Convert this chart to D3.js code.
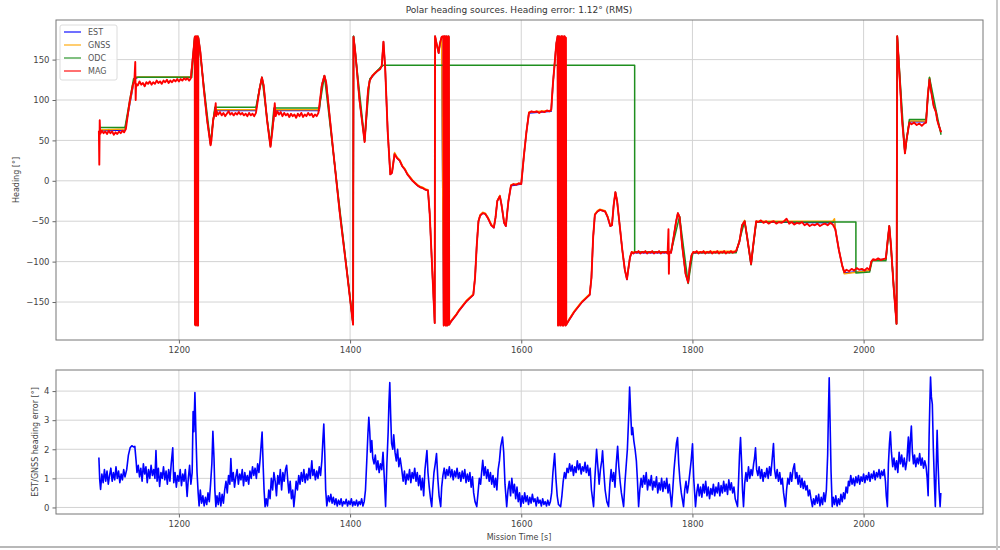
<!DOCTYPE html>
<html><head><meta charset="utf-8">
<script src="https://cdn.jsdelivr.net/npm/d3@7"></script>
<style>
body{margin:0;background:#fff;}
text{font-family:"DejaVu Sans",sans-serif;}
</style></head><body>
<svg id="c" width="1000" height="550"></svg>
<script>
const titleText = "Polar heading sources. Heading error: 1.12° (RMS)";
const xLabel = "Mission Time [s]";
const topYLabel = "Heading [°]";
const bottomYLabel = "EST/GNSS heading error [°]";
const legendLabels = ["EST", "GNSS", "ODC", "MAG"];
const xTicks = [1200, 1400, 1600, 1800, 2000];
const headingTicks = [-150, -100, -50, 0, 50, 100, 150];
const errorTicks = [0, 1, 2, 3, 4];

const gnssSeries = [[1107,63],[1137,64],[1148,127],[1152,128.5],[1214,128.5],[1218.5,178],[1219,-178],[1221,-176],[1222,-179],[1222.5,179],[1225,160],[1229,115],[1233,75],[1237,45],[1240,76],[1242,88],[1290,88],[1294,113],[1297,128],[1299,118],[1303,75],[1307,43],[1309,62],[1312,88],[1364,88],[1367,119],[1370,130],[1372,122],[1380,40],[1388,-40],[1396,-110],[1403.5,-177],[1404,179],[1406,160],[1411,100],[1417,49],[1419,80],[1421,113],[1423,125],[1429,134],[1435,139],[1437,143],[1439,172],[1441,140],[1444,60],[1447,8],[1449,11],[1452,35],[1455,29],[1458,26],[1461,19],[1464,15],[1467,9],[1470,5],[1473,1],[1476,-2],[1479,-5],[1482,-7],[1485,-8],[1488,-10],[1491,-11],[1493,-40],[1496,-110],[1498.9,-176],[1499.3,179],[1501,170],[1503.5,159],[1505,170],[1507,178],[1509.4,-179],[1510.6,179],[1511.8,-179],[1513,179],[1514.2,-179],[1515.4,179],[1515.8,-178],[1518,-173],[1521,-169],[1524,-165],[1527,-160],[1530,-156],[1533,-152],[1536,-148],[1539,-145],[1542,-142],[1544,-140],[1546,-120],[1548,-80],[1550,-50],[1552,-42],[1555,-39],[1558,-40],[1561,-45],[1565,-54],[1568,-57],[1570,-45],[1572,-25],[1575,-18],[1577,-30],[1580,-51],[1582,-55],[1585,-25],[1588,-5],[1600,-3],[1603,30],[1606,60],[1609,85],[1635,87],[1637,120],[1639,145],[1641,170],[1642.5,179],[1643,-179],[1644,179],[1646,-179],[1647,179],[1649,-179],[1650,179],[1652,-179],[1653,-177],[1656,-171],[1659,-166],[1662,-161],[1665,-157],[1668,-153],[1671,-149],[1674,-146],[1677,-143],[1680,-140],[1682,-120],[1684,-70],[1686,-41],[1689,-37],[1692,-35],[1695,-36],[1698,-37],[1701,-44],[1704,-55],[1706,-54],[1708,-30],[1710,-14],[1712,-25],[1715,-55],[1718,-85],[1721,-110],[1723.5,-121],[1725,-110],[1727,-95],[1729,-88],[1775,-88],[1778,-70],[1781,-50],[1783,-40],[1785,-45],[1788,-80],[1792,-115],[1795,-125],[1797,-105],[1799,-92],[1801,-88],[1851,-87],[1855,-75],[1858,-55],[1861,-49],[1864,-70],[1868.5,-102],[1871,-80],[1874.5,-50],[1964,-50],[1966,-47],[1967,-60],[1971,-85],[1975,-105],[1977.5,-115],[2007,-111],[2009,-100],[2011,-98],[2026,-97],[2028,-75],[2030,-56],[2032,-80],[2035,-130],[2038.5,-177],[2039.3,179],[2042,130],[2045,75],[2048.3,35],[2050,50],[2053.5,74],[2073,74],[2075,105],[2077,128],[2079,112],[2082,92],[2084.5,86],[2086,76],[2088,68],[2090.5,60]];

const estSeries = [[1107,62],[1137,63],[1148,126],[1152,128],[1214,128],[1218.5,178],[1219,-178],[1221,-176],[1222,-179],[1222.5,179],[1225,160],[1229,115],[1233,75],[1237,45],[1240,75],[1242,87],[1290,87],[1294,113],[1297,128],[1299,118],[1303,75],[1307,43],[1309,61],[1312,87],[1364,87],[1367,119],[1370,130],[1372,122],[1380,40],[1388,-40],[1396,-110],[1403.5,-177],[1404,179],[1406,160],[1411,100],[1417,49],[1419,80],[1421,112],[1423,125],[1429,133],[1435,139],[1437,142],[1439,172],[1441,140],[1444,60],[1447,8],[1449,10],[1452,34],[1455,28],[1458,25],[1461,18],[1464,14],[1467,8],[1470,4],[1473,0],[1476,-3],[1479,-6],[1482,-8],[1485,-9],[1488,-11],[1491,-12],[1493,-40],[1496,-110],[1498.9,-176],[1499.3,179],[1501,170],[1503.5,158],[1505,170],[1507,178],[1509.4,-179],[1510.6,179],[1511.8,-179],[1513,179],[1514.2,-179],[1515.4,179],[1515.8,-178],[1518,-174],[1521,-170],[1524,-166],[1527,-161],[1530,-157],[1533,-153],[1536,-149],[1539,-146],[1542,-143],[1544,-141],[1546,-120],[1548,-80],[1550,-50],[1552,-43],[1555,-40],[1558,-41],[1561,-46],[1565,-55],[1568,-58],[1570,-45],[1572,-25],[1575,-19],[1577,-30],[1580,-52],[1582,-56],[1585,-25],[1588,-6],[1600,-4],[1603,30],[1606,60],[1609,84],[1635,86],[1637,120],[1639,145],[1641,170],[1642.5,179],[1643,-179],[1644,179],[1646,-179],[1647,179],[1649,-179],[1650,179],[1652,-179],[1653,-177],[1656,-172],[1659,-167],[1662,-162],[1665,-158],[1668,-154],[1671,-150],[1674,-147],[1677,-144],[1680,-141],[1682,-120],[1684,-70],[1686,-42],[1689,-38],[1692,-36],[1695,-37],[1698,-38],[1701,-45],[1704,-56],[1706,-55],[1708,-30],[1710,-14],[1712,-25],[1715,-55],[1718,-85],[1721,-110],[1723.5,-122],[1725,-110],[1727,-95],[1729,-89],[1775,-89],[1778,-70],[1781,-50],[1783,-40],[1785,-45],[1788,-80],[1792,-115],[1795,-126],[1797,-105],[1799,-92],[1801,-89],[1851,-88],[1855,-75],[1858,-55],[1861,-50],[1864,-70],[1868.5,-103],[1871,-80],[1874.5,-51],[1964,-52],[1966,-50],[1967,-60],[1971,-85],[1975,-105],[1977.5,-114],[2007,-111],[2009,-100],[2011,-98],[2026,-97],[2028,-75],[2030,-56],[2032,-80],[2035,-130],[2038.5,-177],[2039.3,179],[2042,130],[2045,75],[2048.3,35],[2050,50],[2053.5,73],[2073,73],[2075,105],[2077,127],[2079,111],[2082,92],[2084.5,86],[2086,76],[2088,68],[2090.5,60]];

const odcSeries = [[1107,66],[1137,66],[1147,126],[1150,128],[1215,128],[1218.5,178],[1219,-178],[1222.5,178],[1237,46],[1242,91],[1290,91],[1297,128],[1307,44],[1311,90],[1364,90],[1370,130],[1403.5,-177],[1404,179],[1417,50],[1423,126],[1435,140],[1439,143],[1732.5,143],[1732.5,-88],[1775,-88],[1785,-44],[1795,-127],[1800.5,-89],[1851,-89],[1861,-50],[1868.5,-104],[1874.5,-51],[1991,-51],[1991,-114],[2007,-113],[2010,-99],[2026,-99],[2030,-56],[2038.5,-177],[2039.3,179],[2048.3,34],[2053.5,76],[2073,76],[2077,128],[2084.5,88],[2090.5,57]];

const magSeries = [[1106.5,62],[1107,20],[1107.5,75],[1108,58],[1110,62],[1112,59],[1114,61],[1116,58],[1118,62],[1120,59],[1122,61],[1124,57],[1126,60],[1128,58],[1130,61],[1132,59],[1134,62],[1136,60],[1138,64],[1142,95],[1146,118],[1148,124],[1149,147],[1149.5,100],[1150,120],[1152,118],[1154,123],[1156,119],[1158,121],[1160,117],[1162,122],[1164,120],[1166,123],[1168,119],[1170,122],[1172,120],[1174,124],[1176,121],[1178,123],[1180,120],[1182,124],[1184,122],[1186,125],[1188,121],[1190,124],[1192,122],[1194,125],[1196,123],[1198,126],[1200,123],[1202,126],[1204,124],[1206,127],[1208,125],[1210,127],[1212,124],[1214,127],[1217,160],[1218.5,178],[1218.8,-178],[1219.1,179],[1219.4,-177],[1219.7,178],[1220,-179],[1220.3,179],[1220.6,-178],[1220.9,178],[1221.2,-177],[1221.5,179],[1221.8,-178],[1222.1,178],[1222.4,-179],[1222.7,177],[1225,160],[1229,115],[1233,75],[1237,44],[1238,50],[1240,75],[1242,85],[1243,96],[1243.5,80],[1244,86],[1246,82],[1248,85],[1250,81],[1252,84],[1254,80],[1256,83],[1258,86],[1260,82],[1262,84],[1264,81],[1266,84],[1268,82],[1270,85],[1272,82],[1274,84],[1276,81],[1278,83],[1280,80],[1282,84],[1284,81],[1286,83],[1288,80],[1290,84],[1294,112],[1297,128],[1299,118],[1303,75],[1307,42],[1309,60],[1311,82],[1312,96],[1313,80],[1315,86],[1317,82],[1319,85],[1321,80],[1323,84],[1325,81],[1327,83],[1329,79],[1331,83],[1333,80],[1335,82],[1337,78],[1339,83],[1341,80],[1343,84],[1345,79],[1347,82],[1349,80],[1351,84],[1353,81],[1355,83],[1357,79],[1359,82],[1361,80],[1363,84],[1367,118],[1370,130],[1372,122],[1380,40],[1388,-40],[1396,-110],[1403.5,-178],[1404,178],[1406,160],[1411,100],[1417,48],[1419,80],[1421,112],[1423,124],[1426,130],[1429,133],[1432,136],[1435,138],[1437,142],[1439,172],[1441,140],[1444,60],[1447,8],[1449,10],[1452,33],[1455,28],[1458,25],[1461,18],[1464,14],[1467,8],[1470,4],[1473,0],[1476,-3],[1479,-6],[1482,-8],[1485,-9],[1488,-11],[1491,-12],[1493,-40],[1496,-110],[1498.9,-176],[1499.3,179],[1501,170],[1503.5,158],[1505,170],[1507,178],[1509,179],[1509.4,-179],[1509.8,178],[1510.2,-178],[1510.6,179],[1511,-177],[1511.4,178],[1511.8,-179],[1512.2,179],[1512.6,-178],[1513,177],[1513.4,-179],[1513.8,178],[1514.2,-178],[1514.6,179],[1515,-177],[1515.4,178],[1515.8,-178],[1518,-174],[1521,-170],[1524,-166],[1527,-161],[1530,-157],[1533,-153],[1536,-149],[1539,-146],[1542,-143],[1544,-141],[1546,-120],[1548,-80],[1550,-50],[1552,-43],[1555,-40],[1558,-41],[1561,-46],[1565,-55],[1568,-58],[1570,-45],[1572,-25],[1575,-19],[1577,-30],[1580,-52],[1582,-56],[1585,-25],[1588,-6],[1591,-4],[1594,-5],[1597,-3],[1600,-4],[1603,30],[1606,60],[1609,84],[1612,86],[1615,85],[1618,86],[1621,84],[1624,86],[1627,85],[1630,87],[1633,86],[1635,88],[1637,120],[1639,145],[1641,170],[1642.5,179],[1643,-179],[1643.4,178],[1643.8,-178],[1644.2,179],[1644.6,-177],[1645,178],[1645.4,-179],[1645.8,177],[1646.2,-178],[1646.6,179],[1647,-177],[1647.4,178],[1647.8,-179],[1648.2,179],[1648.6,-178],[1649,177],[1649.4,-179],[1649.8,178],[1650.2,-177],[1650.6,179],[1651,-178],[1651.4,178],[1651.8,-179],[1652.2,177],[1652.6,-178],[1656,-172],[1659,-167],[1662,-162],[1665,-158],[1668,-154],[1671,-150],[1674,-147],[1677,-144],[1680,-141],[1682,-120],[1684,-70],[1686,-42],[1689,-38],[1692,-36],[1695,-37],[1698,-38],[1701,-45],[1704,-56],[1706,-55],[1708,-30],[1710,-14],[1712,-25],[1715,-55],[1718,-85],[1721,-110],[1723.5,-122],[1725,-110],[1727,-95],[1729,-88],[1731,-90],[1733,-88],[1735,-89],[1737,-87],[1739,-90],[1741,-88],[1743,-89],[1745,-87],[1747,-90],[1749,-88],[1751,-89],[1753,-87],[1755,-90],[1757,-88],[1759,-89],[1761,-87],[1763,-90],[1765,-88],[1767,-89],[1769,-88],[1771,-90],[1772,-60],[1772.5,-115],[1773,-88],[1775,-89],[1778,-70],[1781,-50],[1783,-40],[1785,-45],[1788,-80],[1792,-115],[1795,-126],[1797,-105],[1799,-92],[1801,-88],[1803,-89],[1805,-87],[1807,-90],[1809,-88],[1811,-89],[1813,-87],[1815,-90],[1817,-88],[1819,-89],[1821,-87],[1823,-90],[1825,-88],[1827,-89],[1829,-87],[1831,-90],[1833,-88],[1835,-89],[1837,-87],[1839,-90],[1841,-88],[1843,-89],[1845,-87],[1847,-89],[1849,-88],[1851,-87],[1855,-75],[1858,-55],[1861,-50],[1864,-70],[1868.5,-103],[1871,-80],[1874.5,-50],[1877,-51],[1880,-49],[1883,-52],[1886,-50],[1889,-53],[1892,-51],[1895,-50],[1898,-53],[1901,-51],[1904,-52],[1907,-50],[1910,-47],[1913,-53],[1916,-51],[1919,-54],[1922,-52],[1925,-53],[1928,-51],[1931,-55],[1934,-53],[1937,-56],[1940,-54],[1943,-55],[1946,-53],[1949,-56],[1952,-54],[1955,-53],[1958,-55],[1961,-52],[1964,-54],[1967,-60],[1971,-85],[1975,-105],[1977.5,-113],[1980,-110],[1983,-112],[1986,-109],[1989,-111],[1992,-108],[1995,-110],[1998,-109],[2001,-111],[2004,-108],[2007,-110],[2009,-100],[2011,-97],[2014,-98],[2017,-96],[2020,-98],[2023,-97],[2026,-96],[2028,-75],[2030,-56],[2032,-80],[2035,-130],[2038.5,-177],[2039.3,179],[2042,130],[2045,75],[2048.3,34],[2050,50],[2053.5,72],[2056,70],[2059,72],[2062,69],[2065,71],[2068,68],[2071,71],[2073,72],[2075,105],[2077,125],[2079,110],[2082,92],[2084.5,85],[2086,75],[2088,68],[2090.5,60]];

const errSeries = [[1106.5,1.72],[1107.5,0.95],[1108.5,0.62],[1110,1.15],[1111.5,0.85],[1113,1.3],[1114.5,0.9],[1116,1.25],[1117.5,0.8],[1119,1.1],[1120.5,1.35],[1122,0.9],[1123.5,1.2],[1125,0.95],[1126.5,1.4],[1128,1.0],[1129.5,1.25],[1131,0.85],[1132.5,1.15],[1134,0.95],[1135.5,1.3],[1137,1.05],[1139,1.3],[1141,1.8],[1143,2.05],[1145,2.12],[1147,2.08],[1148.5,2.1],[1150,1.6],[1151,1.2],[1152.5,1.45],[1154,1.05],[1155.5,1.35],[1157,0.9],[1158.5,1.5],[1160,1.15],[1161.5,1.4],[1163,0.85],[1164.5,1.3],[1166,1.0],[1167.5,1.45],[1169,1.1],[1170.5,1.3],[1172,1.0],[1173.2,1.96],[1174.5,0.9],[1176,1.35],[1177.5,0.72],[1179,1.2],[1180.5,1.0],[1182,1.4],[1183.5,0.95],[1185,1.25],[1186.5,0.8],[1188,1.3],[1189.5,0.9],[1191,1.5],[1192.8,2.05],[1194,0.85],[1195.5,1.2],[1197,0.7],[1198.5,1.1],[1200,0.9],[1201.5,1.3],[1203,0.75],[1204.5,1.15],[1206,0.9],[1207.5,1.3],[1209.6,0.38],[1211,1.0],[1212.5,1.45],[1214,0.8],[1215.5,1.2],[1216.6,3.3],[1217.5,2.6],[1218.7,3.95],[1220,2.4],[1221.2,1.2],[1222.5,0.5],[1223.6,0.05],[1225,0.6],[1226.5,0.15],[1228,0.4],[1229.5,0.05],[1231,0.35],[1232.5,0.1],[1234,0.5],[1235.5,0.2],[1237,0.8],[1238.5,1.5],[1239.7,2.62],[1241,1.7],[1242,0.6],[1243.2,0.03],[1244.5,0.4],[1246,0.1],[1247.5,0.5],[1249,0.05],[1250.5,0.45],[1252,0.15],[1253.5,0.6],[1255,0.9],[1256.5,0.5],[1258,1.1],[1259.5,0.8],[1260.7,1.68],[1262,0.9],[1263.5,1.2],[1265,0.7],[1266.5,1.05],[1268,1.3],[1269.5,0.8],[1271,1.15],[1272.5,0.95],[1274,1.3],[1275.5,0.75],[1277,1.2],[1278.5,0.9],[1280,1.1],[1281.5,0.8],[1283,1.25],[1284.5,1.0],[1286,1.4],[1287.5,1.1],[1289,1.35],[1290.5,1.0],[1292,1.5],[1293.5,1.2],[1295,1.7],[1296.2,2.2],[1297.2,2.59],[1298.5,1.4],[1299.5,0.6],[1300.7,0.03],[1302,0.3],[1303.5,0.05],[1305,0.6],[1306.5,0.3],[1308,1.0],[1309.5,0.6],[1311,1.2],[1312.5,0.9],[1314,0.4],[1315.5,1.1],[1317,0.8],[1318.5,1.3],[1320,0.6],[1321.5,1.2],[1323,0.9],[1324.5,1.3],[1325.9,1.45],[1327,1.0],[1328.5,0.5],[1330,0.9],[1331.5,0.3],[1333,0.6],[1334.3,0.03],[1335.5,0.4],[1337,0.9],[1338.5,0.6],[1340,1.1],[1341.5,0.8],[1343,1.2],[1344.5,0.9],[1346,1.3],[1347.5,0.85],[1349,1.15],[1350.5,0.95],[1352,1.35],[1353.5,1.0],[1355.3,1.6],[1356.5,1.1],[1358,1.3],[1359.5,0.95],[1361,1.25],[1362.5,1.0],[1364,1.4],[1365.5,1.1],[1367,1.6],[1368.2,2.3],[1369.3,2.87],[1370.5,1.8],[1371.5,0.6],[1372.8,0.05],[1374.5,0.4],[1376,0.2],[1377.5,0.45],[1379,0.15],[1380.5,0.35],[1382,0.1],[1383.5,0.3],[1385,0.05],[1386.5,0.25],[1388,0.1],[1389.5,0.3],[1391,0.05],[1392.5,0.2],[1394,0.12],[1395.5,0.28],[1397,0.05],[1398.5,0.22],[1400,0.1],[1401.5,0.3],[1403,0.05],[1404.5,0.2],[1406,0.08],[1407.5,0.25],[1409,0.05],[1410.5,0.2],[1412,0.1],[1413.5,0.3],[1415,0.05],[1416.5,0.2],[1418,0.6],[1419.5,1.6],[1420.8,2.5],[1421.9,3.1],[1423,2.6],[1424,1.9],[1425.4,2.3],[1426.5,1.7],[1428,1.5],[1429.5,1.8],[1431,1.3],[1432.5,1.6],[1434,1.2],[1435.5,1.5],[1437,1.3],[1438.5,1.9],[1440,1.0],[1441.5,0.03],[1443,1.5],[1444.5,2.6],[1445.4,3.6],[1446.4,4.29],[1447.4,3.2],[1448.5,2.2],[1449.9,2.0],[1451,2.5],[1452.5,1.9],[1454,1.6],[1455.5,2.0],[1457,1.4],[1458.5,1.7],[1460.4,1.3],[1462,0.9],[1463.5,1.25],[1465,0.8],[1466.5,1.15],[1468,0.95],[1469.5,1.3],[1471,0.85],[1472.5,1.2],[1474,1.0],[1475.5,1.35],[1477,0.9],[1478.5,1.2],[1480,0.75],[1481.5,1.1],[1483,0.6],[1484.5,1.0],[1486,0.4],[1487.5,1.3],[1489.8,1.96],[1491,1.2],[1492.5,0.7],[1494,0.3],[1495.4,0.03],[1496.5,0.6],[1498,1.2],[1499.5,1.5],[1501,1.85],[1502.5,1.0],[1504,0.4],[1505.9,0.03],[1507,0.7],[1508.5,1.1],[1510,1.35],[1511.5,1.0],[1513,1.3],[1514.5,1.1],[1516,1.4],[1517.5,1.05],[1519,1.3],[1520.5,0.95],[1522,1.25],[1523.5,1.05],[1525,1.35],[1526.5,1.0],[1528,1.2],[1529.5,0.9],[1531,1.25],[1532.5,1.0],[1534,1.3],[1535.5,0.85],[1537,1.15],[1538.5,0.9],[1540,1.2],[1541.5,0.7],[1543,1.05],[1544.4,0.5],[1546,0.2],[1548,0.03],[1549.5,0.5],[1551,1.0],[1552.5,0.8],[1554,1.3],[1555,1.62],[1556.5,1.1],[1558,1.4],[1559.5,1.0],[1561,1.3],[1562.5,0.9],[1564,1.2],[1565.5,0.8],[1567,1.1],[1568.5,0.7],[1570,1.0],[1571.5,0.6],[1573,1.3],[1574.5,1.6],[1576,2.1],[1578.1,2.42],[1579.5,1.9],[1581,0.8],[1583,0.03],[1584.5,0.6],[1586,0.9],[1587.5,0.4],[1589,1.0],[1590.5,0.5],[1592,0.8],[1593.5,0.3],[1595,0.7],[1596.5,0.2],[1598,0.5],[1599.5,0.03],[1601,0.4],[1602.5,0.15],[1604,0.5],[1605.5,0.2],[1607,0.4],[1608.5,0.1],[1610,0.35],[1611.5,0.15],[1613,0.45],[1614.5,0.2],[1616,0.3],[1617.5,0.05],[1619,0.35],[1620.5,0.15],[1622,0.25],[1623.5,0.05],[1625,0.3],[1626.5,0.1],[1628,0.2],[1629.5,0.05],[1631,0.25],[1632.5,0.08],[1634,0.2],[1635.5,0.5],[1637,1.2],[1639,1.85],[1640.5,1.0],[1642,0.4],[1643.5,0.1],[1646,0.03],[1647.5,0.4],[1649,0.9],[1650.5,1.2],[1652,1.0],[1653.5,1.35],[1655,1.2],[1656.5,1.5],[1658,1.25],[1659.5,1.45],[1661,1.1],[1662.5,1.4],[1664,1.2],[1665.5,1.6],[1667,1.3],[1668.5,1.5],[1670,1.15],[1671.5,1.4],[1673,1.25],[1674.5,1.55],[1676,1.2],[1677.5,1.45],[1679,1.1],[1680.5,1.35],[1682,0.6],[1684.5,0.03],[1686,1.0],[1688,2.0],[1689.5,1.4],[1691,0.8],[1692.5,1.3],[1694,1.6],[1695,1.95],[1696.5,1.2],[1698,0.6],[1700,0.2],[1702,0.03],[1703.5,0.8],[1705,1.3],[1706.5,0.9],[1708,1.2],[1709.5,0.7],[1711,1.5],[1712.6,2.1],[1714,1.4],[1715.5,0.9],[1717,0.5],[1719.6,0.03],[1721,0.8],[1722.5,1.4],[1724,2.0],[1725.5,3.1],[1726.6,4.14],[1727.8,3.3],[1729,2.5],[1730.1,2.75],[1731.5,2.3],[1733,2.0],[1734.5,1.6],[1735.8,0.9],[1737.1,0.03],[1738.5,0.6],[1740,1.0],[1741.5,0.7],[1743,1.1],[1744.5,0.8],[1746,1.2],[1747.5,0.6],[1749,0.95],[1750.5,0.75],[1752,1.1],[1753.5,0.6],[1755,0.9],[1756.5,0.7],[1758,1.05],[1759.5,0.5],[1761,0.85],[1762.5,0.6],[1764,1.0],[1765.5,0.55],[1767,0.9],[1768.5,0.65],[1770,1.0],[1771.5,0.5],[1773,0.8],[1775.6,0.03],[1777,0.6],[1778.5,1.3],[1780,1.8],[1781.3,2.2],[1782.6,2.4],[1784,1.5],[1785.5,0.9],[1787,0.5],[1789.6,0.03],[1791,0.6],[1792.5,0.9],[1794,0.5],[1795.5,0.8],[1797,1.2],[1798.5,1.6],[1800.1,2.19],[1801.5,1.0],[1803.6,0.03],[1805,0.5],[1806.5,0.8],[1808,0.4],[1809.5,0.7],[1811,0.35],[1812.5,0.8],[1814,0.5],[1815.5,0.9],[1817,0.4],[1818.5,0.7],[1820,0.3],[1821.5,0.65],[1823,0.45],[1824.5,0.8],[1826,0.4],[1827.5,0.7],[1829,0.5],[1830.5,0.85],[1832,0.4],[1833.5,0.75],[1835,0.5],[1836.5,0.9],[1838,0.55],[1839.5,0.8],[1841,0.45],[1842.5,0.95],[1844,0.6],[1845.5,0.85],[1847,0.5],[1848.5,0.7],[1850,0.3],[1852.7,0.03],[1854,1.0],[1855,1.8],[1856.2,2.4],[1857.5,1.5],[1858.5,0.6],[1859.7,0.03],[1861,0.8],[1862.5,1.2],[1864,0.9],[1865.5,1.4],[1867,1.0],[1868.5,1.3],[1870,1.1],[1871.5,1.5],[1872.6,1.7],[1873.7,2.05],[1875,1.3],[1876.5,1.1],[1878,1.4],[1879.5,1.0],[1881,1.3],[1882.5,0.9],[1884,1.2],[1885.5,1.05],[1887,1.35],[1888.5,1.0],[1890,1.4],[1891.5,1.1],[1893,1.6],[1894.7,2.2],[1896,1.3],[1897.5,1.0],[1899,1.3],[1900.5,0.9],[1902,1.2],[1903.5,0.8],[1905,1.0],[1906.5,0.5],[1908.7,0.03],[1910,0.6],[1911.5,1.0],[1913,0.8],[1914.5,1.2],[1916,0.9],[1917.5,1.3],[1919.2,1.5],[1920.5,1.0],[1922,1.2],[1923.5,0.8],[1925,1.1],[1926.5,0.7],[1928,1.0],[1929.5,0.65],[1931,0.9],[1932.5,0.6],[1934,0.75],[1935.5,0.4],[1937,0.6],[1938.5,0.3],[1940.2,0.03],[1941.5,0.3],[1943,0.1],[1944.5,0.4],[1946,0.15],[1947.5,0.45],[1949,0.05],[1950.5,0.35],[1952,0.1],[1953.5,0.5],[1955,0.2],[1956.5,0.6],[1958,1.8],[1959,3.4],[1959.8,4.46],[1960.8,3.0],[1962,1.2],[1963.3,0.03],[1964.5,0.35],[1966,0.1],[1967.5,0.4],[1969,0.05],[1970.5,0.3],[1972,0.1],[1973.5,0.45],[1975,0.2],[1976.5,0.5],[1978,0.3],[1979.5,0.7],[1981,0.5],[1982.3,0.9],[1983.5,0.75],[1985,1.1],[1986.5,0.8],[1988,1.0],[1989.5,0.75],[1991,1.05],[1992.5,0.85],[1994,1.1],[1995.5,0.8],[1997,1.05],[1998.5,0.9],[2000,1.15],[2001.5,0.85],[2003,1.1],[2004.5,0.95],[2006,1.2],[2007.5,0.9],[2009,1.15],[2010.5,1.0],[2012,1.25],[2013.5,0.95],[2015,1.2],[2016.5,1.05],[2018,1.3],[2019.5,1.0],[2021,1.25],[2022.5,1.1],[2024,1.3],[2025.5,0.9],[2026.5,0.4],[2027.8,0.03],[2029,1.5],[2030.2,2.2],[2031.3,2.6],[2032.5,1.9],[2034,1.4],[2035.5,1.7],[2037,1.3],[2038.5,1.6],[2040,1.2],[2041.5,1.9],[2043,1.5],[2044.5,1.8],[2046,1.4],[2047.5,1.7],[2049,1.3],[2050.5,1.6],[2052.3,2.42],[2053.5,1.6],[2054.6,2.3],[2055.8,2.8],[2057,1.9],[2058.3,1.5],[2059.5,1.8],[2061,1.4],[2062.5,1.7],[2064,1.5],[2065.5,1.85],[2067,1.45],[2068.5,1.7],[2070,1.35],[2071.5,1.6],[2073,1.4],[2074.3,1.0],[2075.4,0.4],[2076.5,2.4],[2077.4,3.6],[2078.2,4.48],[2079.2,3.8],[2080.3,3.55],[2081.5,2.0],[2082.8,0.8],[2083.8,0.03],[2084.9,1.4],[2085.9,2.65],[2087,1.5],[2088.2,0.6],[2089.4,0.03],[2090.2,0.5]];

const seriesColors = {EST: "#0000ff", GNSS: "#ffa500", ODC: "#1f8f1f", MAG: "#ff0000"};

const svg = d3.select("#c");
const L = 56, R = 983;
const topBox = {top: 20, bottom: 340};
const botBox = {top: 370, bottom: 514};

const x = d3.scaleLinear().domain([1056.4, 2139.5]).range([L, R]);
const yTop = d3.scaleLinear().domain([-197, 199]).range([topBox.bottom, topBox.top]);
const yBot = d3.scaleLinear().domain([-0.225, 4.725]).range([botBox.bottom, botBox.top]);

// outer frame lines of the screenshot
svg.append("line").attr("x1", 0).attr("x2", 1000).attr("y1", 547).attr("y2", 547).attr("stroke", "#b8b8b8").attr("stroke-width", 2);
svg.append("line").attr("x1", 997).attr("x2", 997).attr("y1", 0).attr("y2", 550).attr("stroke", "#c8c8c8").attr("stroke-width", 2);

const defs = svg.append("defs");
defs.append("clipPath").attr("id", "clipTop").append("rect").attr("x", L).attr("y", topBox.top).attr("width", R - L).attr("height", topBox.bottom - topBox.top);
defs.append("clipPath").attr("id", "clipBot").append("rect").attr("x", L).attr("y", botBox.top).attr("width", R - L).attr("height", botBox.bottom - botBox.top);

function drawAxes(box, y, ticks) {
  const g = svg.append("g");
  g.selectAll(".vg").data(xTicks).join("line")
    .attr("x1", d => x(d)).attr("x2", d => x(d)).attr("y1", box.top).attr("y2", box.bottom)
    .attr("stroke", "#d3d3d3").attr("stroke-width", 1);
  g.selectAll(".hg").data(ticks).join("line")
    .attr("x1", L).attr("x2", R).attr("y1", d => y(d)).attr("y2", d => y(d))
    .attr("stroke", "#d3d3d3").attr("stroke-width", 1);
  const ax = svg.append("g").attr("transform", `translate(0,${box.bottom})`)
    .call(d3.axisBottom(x).tickValues(xTicks).tickSize(3.5).tickPadding(3).tickFormat(d3.format("d")));
  const ay = svg.append("g").attr("transform", `translate(${L},0)`)
    .call(d3.axisLeft(y).tickValues(ticks).tickSize(3.5).tickPadding(3).tickFormat(d => d < 0 ? "\u2212" + Math.abs(d) : d));
  [ax, ay].forEach(a => {
    a.select(".domain").remove();
    a.selectAll(".tick line").attr("stroke", "#666");
    a.selectAll(".tick text").attr("fill", "#444").style("font-size", "8.5px").style("font-family", "DejaVu Sans");
  });
  return g;
}
function drawFrame(box) {
  svg.append("rect").attr("x", L).attr("y", box.top).attr("width", R - L).attr("height", box.bottom - box.top)
    .attr("fill", "none").attr("stroke", "#777").attr("stroke-width", 1);
}

drawAxes(topBox, yTop, headingTicks);
drawAxes(botBox, yBot, errorTicks);

const lineTop = d3.line().x(d => x(d[0])).y(d => yTop(d[1]));
const lineBot = d3.line().x(d => x(d[0])).y(d => yBot(d[1]));

const gTop = svg.append("g").attr("clip-path", "url(#clipTop)");
const topData = [["EST", estSeries, 1.5], ["GNSS", gnssSeries, 1.5], ["ODC", odcSeries, 1.5], ["MAG", magSeries, 1.9]];
topData.forEach(([name, data, w]) => {
  gTop.append("path").datum(data).attr("d", lineTop)
    .attr("fill", "none").attr("stroke", seriesColors[name]).attr("stroke-width", w)
    .attr("stroke-linejoin", "round");
});

const gBot = svg.append("g").attr("clip-path", "url(#clipBot)");
gBot.append("path").datum(errSeries).attr("d", lineBot)
  .attr("fill", "none").attr("stroke", "#0000ff").attr("stroke-width", 1.6).attr("stroke-linejoin", "round");

drawFrame(topBox);
drawFrame(botBox);

// legend
const lg = svg.append("g");
lg.append("rect").attr("x", 60).attr("y", 25).attr("width", 57).attr("height", 55).attr("rx", 2)
  .attr("fill", "#fff").attr("fill-opacity", 0.85).attr("stroke", "#dcdcdc");
legendLabels.forEach((name, i) => {
  const yy = 32 + i * 13;
  lg.append("line").attr("x1", 64).attr("x2", 81).attr("y1", yy).attr("y2", yy)
    .attr("stroke", seriesColors[name]).attr("stroke-width", 1.5).attr("stroke-opacity", 0.75);
  lg.append("text").attr("x", 88).attr("y", yy + 3).text(name).attr("fill", "#555").style("font-size", "8px");
});

svg.append("text").attr("x", 519).attr("y", 13).attr("text-anchor", "middle").attr("fill", "#333")
  .style("font-size", "9px").text(titleText);
svg.append("text").attr("x", 519).attr("y", 540).attr("text-anchor", "middle").attr("fill", "#444")
  .style("font-size", "8px").text(xLabel);
svg.append("text").attr("transform", "translate(19,180) rotate(-90)").attr("text-anchor", "middle").attr("fill", "#444")
  .style("font-size", "8px").text(topYLabel);
svg.append("text").attr("transform", "translate(38,442) rotate(-90)").attr("text-anchor", "middle").attr("fill", "#444")
  .style("font-size", "8px").text(bottomYLabel);
</script>
</body></html>
